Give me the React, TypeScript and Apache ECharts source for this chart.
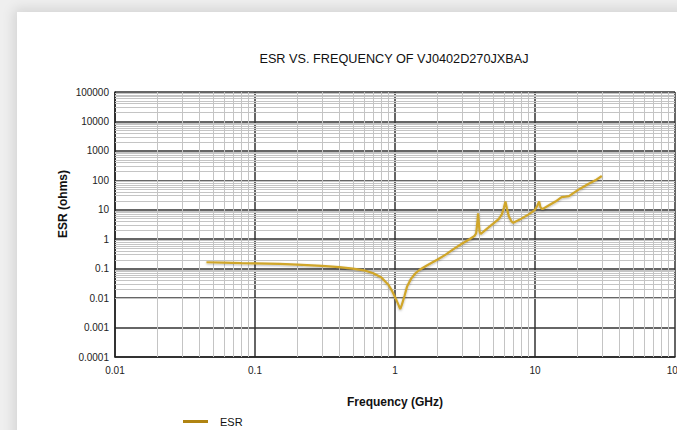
import React, { useEffect, useRef } from "react";
import * as echarts from "echarts";

const TITLE = "ESR VS. FREQUENCY OF VJ0402D270JXBAJ";
const X_NAME = "Frequency (GHz)";
const Y_NAME = "ESR (ohms)";
const SERIES_NAME = "ESR";

const xTickLabels = ["0.01", "0.1", "1", "10", "100"];
const yTickLabels = ["0.0001", "0.001", "0.01", "0.1", "1", "10", "100", "1000", "10000", "100000"];
const xDecades = [0.01, 0.1, 1, 10];
const yDecades = [0.0001, 0.001, 0.01, 0.1, 1, 10, 100, 1000, 10000];
const minorMultipliers = [2, 3, 4, 5, 6, 7, 8, 9];

const freqGHz = [
  0.045, 0.06, 0.08, 0.1, 0.15, 0.2, 0.3, 0.4, 0.5, 0.6, 0.7, 0.8, 0.9, 0.95, 1.0, 1.05, 1.09,
  1.12, 1.17, 1.22, 1.3, 1.4, 1.5, 1.7, 2.0, 2.3, 2.6, 3.0, 3.4, 3.7, 3.8, 3.88, 3.92, 3.96,
  4.02, 4.1, 4.5, 5.0, 5.5, 5.8, 6.0, 6.15, 6.3, 6.5, 6.8, 7.0, 8.0, 9.0, 10.0, 10.4, 10.7,
  10.95, 11.3, 12.5, 14, 15.5, 16.5, 17.5, 19, 21, 24, 27, 30,
];
const esrOhms = [
  0.165, 0.16, 0.155, 0.152, 0.145, 0.138, 0.125, 0.112, 0.1, 0.088, 0.07, 0.05, 0.028, 0.018,
  0.011, 0.0065, 0.0042, 0.006, 0.012, 0.025, 0.045, 0.07, 0.092, 0.13, 0.2, 0.3, 0.45, 0.7, 1.0,
  1.3, 1.6, 4, 7.5, 4, 1.8, 1.5, 2.2, 3.3, 4.8, 7, 12, 19, 11, 6, 4, 3.6, 5, 7, 10, 14, 19, 12,
  10.5, 14, 19, 27, 28, 29, 38, 52, 75, 100, 140,
];

function labelFor(labels: string[], minExp: number, v: number) {
  const k = Math.round(Math.log10(v)) - minExp;
  return labels[k] ?? "";
}

export default function App() {
  const ref = useRef<HTMLDivElement>(null);
  useEffect(() => {
    if (!ref.current) return;
    const chart = echarts.init(ref.current, undefined, { renderer: "svg" });
    const data = freqGHz.map((f, i) => [f, esrOhms[i]]);
    const xMinor: any[] = [];
    xDecades.forEach((d) => minorMultipliers.forEach((m) => xMinor.push({ xAxis: +(d * m).toPrecision(3) })));
    const yMinor: any[] = [];
    yDecades.forEach((d) => minorMultipliers.forEach((m) => yMinor.push({ yAxis: +(d * m).toPrecision(3) })));
    chart.setOption({
      animation: false,
      title: {
        text: TITLE,
        left: 389,
        top: 47,
        textAlign: "center",
        textStyle: { fontFamily: "Liberation Sans", fontSize: 12.7, fontWeight: "normal", color: "#111" },
      },
      legend: {
        data: [{ name: SERIES_NAME, icon: "rect", itemStyle: { color: "#b08412" } }],
        left: 178,
        top: 411,
        itemWidth: 25,
        itemHeight: 3,
        itemGap: 8,
        textStyle: { fontFamily: "Liberation Sans", fontSize: 11, color: "#111", padding: [0, 0, 0, 7] },
      },
      grid: { left: 115, right: 2, top: 92, bottom: 73, outerBoundsMode: "none" },
      xAxis: {
        type: "log",
        logBase: 10,
        min: 0.01,
        max: 100,
        name: X_NAME,
        nameLocation: "middle",
        nameGap: 39,
        nameTextStyle: { fontFamily: "Liberation Sans", fontSize: 12, fontWeight: "bold", color: "#111" },
        axisLine: { show: true, lineStyle: { color: "#222", width: 1.5 } },
        axisTick: { show: false },
        axisLabel: {
          fontFamily: "Liberation Sans",
          fontSize: 10,
          color: "#222",
          margin: 8,
          formatter: (v: number) => labelFor(xTickLabels, -2, v),
        },
        splitLine: { show: true, lineStyle: { color: "#333", width: 1.5 } },
      },
      yAxis: {
        type: "log",
        logBase: 10,
        min: 0.0001,
        max: 100000,
        axisLine: { show: true, lineStyle: { color: "#222", width: 1.5 } },
        axisTick: { show: false },
        axisLabel: {
          fontFamily: "Liberation Sans",
          fontSize: 10,
          color: "#222",
          margin: 6,
          formatter: (v: number) => labelFor(yTickLabels, -4, v),
        },
        splitLine: { show: true, lineStyle: { color: "#333", width: 1.5 } },
      },
      graphic: [
        {
          type: "text",
          x: 63,
          y: 204,
          rotation: Math.PI / 2,
          style: {
            text: Y_NAME,
            fontFamily: "Liberation Sans",
            fontSize: 12,
            fontWeight: "bold",
            fill: "#111",
            textAlign: "center",
            textVerticalAlign: "middle",
          },
        },
      ],
      series: [
        {
          name: "minorX",
          type: "line",
          data: [],
          silent: true,
          z: 1,
          markLine: {
            silent: true,
            symbol: "none",
            label: { show: false },
            lineStyle: { color: "#c4c4c4", width: 1, type: "solid" },
            data: xMinor,
          },
        },
        {
          name: "minorY",
          type: "line",
          data: [],
          silent: true,
          z: 1,
          markLine: {
            silent: true,
            symbol: "none",
            label: { show: false },
            lineStyle: { color: "#c4c4c4", width: 1, type: "solid" },
            data: yMinor,
          },
        },
        {
          name: SERIES_NAME,
          type: "line",
          data,
          z: 5,
          showSymbol: false,
          symbol: "none",
          smooth: false,
          lineStyle: {
            color: "#d0a62a",
            width: 2.2,
            shadowColor: "rgba(0,0,0,0.3)",
            shadowBlur: 2,
            shadowOffsetY: 1,
          },
          itemStyle: { color: "#b08412" },
        },
      ],
    });
    return () => chart.dispose();
  }, []);
  return (
    <div style={{ position: "fixed", left: 0, top: 0, width: 677, height: 430, background: "#efefef", overflow: "hidden" }}>
      <div
        style={{
          position: "absolute",
          left: 17,
          top: 12,
          width: 700,
          height: 460,
          background: "#fff",
          boxShadow: "0 0 12px 3px rgba(0,0,0,0.12)",
        }}
      />
      <div ref={ref} style={{ position: "absolute", left: 0, top: 0, width: 677, height: 430 }} />
    </div>
  );
}
